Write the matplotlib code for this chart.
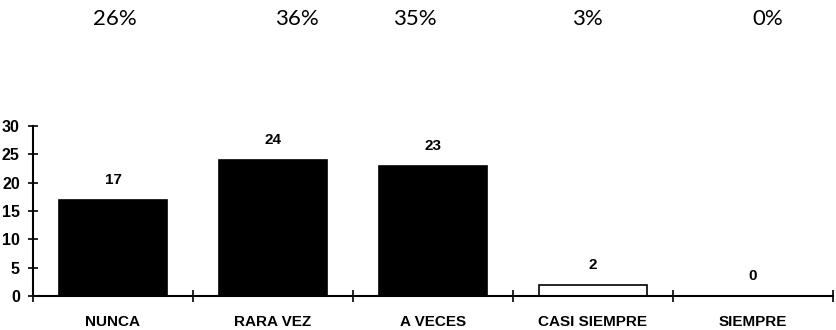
import matplotlib.pyplot as plt

categorias = ['NUNCA', 'RARA VEZ', 'A VECES', 'CASI SIEMPRE', 'SIEMPRE']
valores = [17, 24, 23, 2, 0]
porcentajes = ['26%', '36%', '35%', '3%', '0%']
pct_x = [115, 297, 415, 587, 768]  # posiciones en pixeles del texto superior
colores = ['black', 'black', 'black', 'white', 'white']

plt.rcParams['font.family'] = ['Liberation Sans', 'DejaVu Sans']

fig = plt.figure(figsize=(8.36, 3.30), dpi=100)
ax = fig.add_axes([33 / 836, 34 / 330, 800 / 836, 170 / 330])

pos = range(len(categorias))
ax.bar(pos, valores, width=0.68, color=colores, edgecolor='black', linewidth=1.2)

for x, v in zip(pos, valores):
    ax.annotate(str(v), (x, v), xytext=(0, 20), textcoords='offset pixels',
                ha='center', va='center', fontsize=11, fontweight='bold')

ax.set_xlim(-0.5, 4.5)
ax.set_ylim(0, 30)
ax.set_yticks(range(0, 31, 5))
ax.set_xticks(list(pos))
ax.set_xticklabels(categorias, fontsize=11, fontweight='bold')
ax.set_xticks([i - 0.5 for i in range(6)], minor=True)
ax.tick_params(axis='x', which='major', length=0, pad=14)
ax.tick_params(axis='x', which='minor', direction='inout', length=9, width=1.2)
ax.tick_params(axis='y', direction='inout', length=7, width=1.2, pad=6)
for lbl in ax.get_yticklabels():
    lbl.set_fontweight('bold')
    lbl.set_fontsize(11.5)

for s in ['top', 'right']:
    ax.spines[s].set_visible(False)
for s in ['left', 'bottom']:
    ax.spines[s].set_linewidth(1.5)

for x, t in zip(pct_x, porcentajes):
    fig.text(x / 836, 1 - 19 / 330, t, ha='center', va='center',
             fontsize=16, family=['Lato', 'DejaVu Sans'])

fig.savefig('out.png', dpi=100)
